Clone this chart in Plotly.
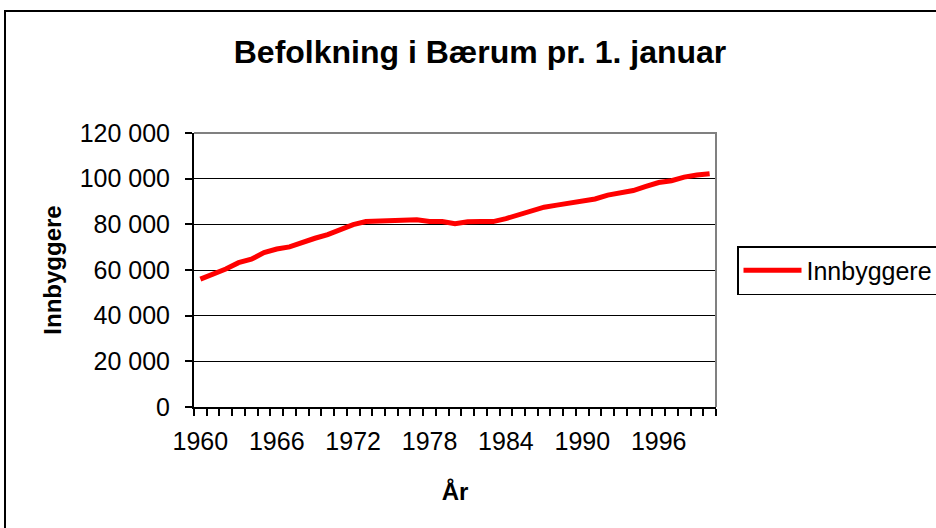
import plotly.graph_objects as go

years = list(range(1960, 2001))
innbyggere = [
    56000, 58000, 60400, 63200, 64700, 67600, 69200, 70100, 72200, 73900,
    75500, 77600, 79900, 81200, 81400, 82000, 82000, 82000, 81200, 81200,
    80300, 81100, 81200, 81200, 82500, 84300, 86100, 87500, 88400, 89300,
    90200, 91100, 92800, 94000, 94800, 96600, 98300, 99100, 100700, 101600,
    102200,
]
y_ticks = [0, 20000, 40000, 60000, 80000, 100000, 120000]
x_label_years = [1960, 1966, 1972, 1978, 1984, 1990, 1996]

FONT = "Liberation Sans, Arial, sans-serif"
W, H = 936, 528
L, R, T, B = 194, 936 - 716, 133, 528 - 407
pw, ph = W - L - R, H - T - B

def px_x(p):
    return (p - L) / pw

def px_y(p):
    return (H - B - p) / ph

fig = go.Figure()
fig.add_trace(go.Scatter(
    x=years, y=innbyggere, mode="lines", name="Innbyggere",
    line=dict(color="#ff0000", width=5),
))

fig.update_layout(
    width=W, height=H,
    margin=dict(l=L, r=R, t=T, b=B, pad=0, autoexpand=False),
    paper_bgcolor="white", plot_bgcolor="white",
    separators=", ",
    font=dict(family=FONT, size=25, color="black"),
    title=dict(text="<b>Befolkning i Bærum pr. 1. januar</b>",
               x=px_x(480), xref="paper", xanchor="center",
               y=1 - 52 / H, yanchor="middle", automargin=False,
               font=dict(size=32, family=FONT, color="black")),
    showlegend=True,
    legend=dict(x=px_x(737), y=px_y(246), xanchor="left", yanchor="top",
                bordercolor="black", borderwidth=1.5, bgcolor="white",
                font=dict(size=25, family=FONT, color="black"),
                itemwidth=58, tracegroupgap=0),
)

fig.update_xaxes(
    range=[1959.5, 2000.5], automargin=False,
    tickmode="array", tickvals=x_label_years,
    ticktext=[str(v) for v in x_label_years],
    ticks="", showgrid=False, zeroline=False,
    showline=True, linecolor="black", linewidth=2,
    tickfont=dict(size=25, family=FONT, color="black"),
    ticklabelstandoff=11,
    minor=dict(tick0=1959.5, dtick=1, ticks="outside", ticklen=7,
               tickwidth=1.5, tickcolor="black", showgrid=False),
    title=dict(text="<b>År</b>", standoff=29,
               font=dict(size=24, family=FONT, color="black")),
)

fig.update_yaxes(
    range=[0, 120000], automargin=False,
    tickmode="array", tickvals=y_ticks,
    tickformat=",d",
    ticks="outside", ticklen=7, tickwidth=1.5, tickcolor="black",
    showgrid=True, gridcolor="black", gridwidth=1.2,
    zeroline=False,
    showline=True, linecolor="black", linewidth=2,
    tickfont=dict(size=25, family=FONT, color="black"),
    ticklabelstandoff=10,
    title=dict(text="<b>Innbyggere</b>", standoff=11,
               font=dict(size=24, family=FONT, color="black")),
)

# gray plot-area border on top and right (Excel style)
fig.add_shape(type="path", xref="paper", yref="paper",
              path="M 0,1 L 1,1 L 1,0", line=dict(color="#808080", width=2),
              layer="above")
# outer chart-area border
fig.add_shape(type="rect", xref="paper", yref="paper",
              x0=px_x(5), x1=px_x(945), y0=px_y(540), y1=px_y(11),
              line=dict(color="black", width=2), fillcolor="rgba(0,0,0,0)",
              layer="below")

fig.write_html("out.html",
               config={"displayModeBar": False},
               post_script="document.body.style.margin='0px';"
                           "document.body.style.overflow='hidden';")
